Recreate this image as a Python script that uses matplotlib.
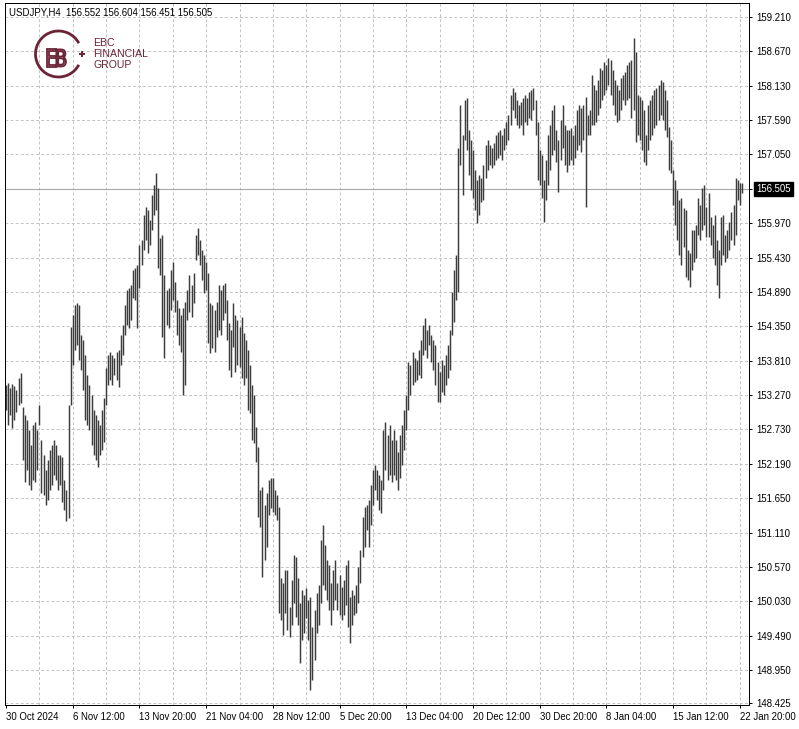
import matplotlib
matplotlib.use("Agg")
import matplotlib.pyplot as plt
import matplotlib.transforms as mtransforms
from matplotlib.patches import Arc, PathPatch
from matplotlib.textpath import TextPath
from matplotlib.font_manager import FontProperties
import numpy as np

plt.rcParams['font.family'] = ['Liberation Sans', 'DejaVu Sans']

symbol = "USDJPY,H4"
last_open = 156.552
last_high = 156.604
last_low = 156.451
last_close = 156.505

# H4 bar highs / lows, 30 Oct 2024 .. 22 Jan 2025
highs = [
    153.43, 153.46, 153.38, 153.44, 153.41, 153.35, 153.54, 153.62, 153.08, 152.96,
    152.88, 152.72, 152.49, 152.80, 152.85, 152.72, 153.11, 152.56, 152.33, 152.09,
    152.25, 152.41, 152.49, 152.56, 152.49, 152.33, 152.33, 152.30, 151.94, 151.78,
    153.11, 154.34, 154.53, 154.68, 154.71, 154.68, 154.21, 154.13, 153.90, 153.58,
    153.43, 153.27, 153.04, 152.96, 152.88, 152.80, 153.04, 153.22, 153.70, 153.90,
    153.95, 153.90, 153.85, 153.95, 153.98, 154.21, 154.37, 154.68, 154.92, 154.95,
    155.00, 155.24, 155.27, 155.31, 155.63, 155.71, 156.10, 156.23, 156.18, 156.02,
    156.41, 156.57, 156.76, 156.52, 155.74, 155.79, 155.16, 154.92, 154.95, 155.24,
    155.36, 155.05, 154.76, 154.64, 154.53, 154.64, 154.73, 154.92, 155.16, 155.00,
    155.19, 155.79, 155.90, 155.71, 155.55, 155.47, 155.36, 155.19, 154.71, 154.68,
    154.61, 154.73, 155.00, 154.92, 155.00, 155.03, 154.76, 154.40, 154.29, 154.71,
    154.53, 154.45, 154.34, 154.50, 154.24, 154.13, 153.98, 153.74, 153.43, 153.27,
    152.77, 152.45, 151.78, 151.83, 151.54, 151.73, 151.94, 151.97, 151.97, 151.78,
    151.70, 151.51, 150.40, 150.32, 150.52, 150.52, 149.94, 150.36, 150.76, 150.73,
    150.40, 150.00, 150.21, 150.13, 150.24, 150.05, 150.10, 149.63, 149.89, 150.16,
    150.29, 150.99, 151.23, 150.91, 150.68, 150.60, 150.32, 150.52, 150.68, 150.32,
    150.44, 150.25, 150.36, 150.60, 150.68, 150.10, 150.21, 150.13, 150.29, 150.57,
    150.84, 151.35, 151.51, 151.54, 151.62, 151.86, 152.09, 152.17, 152.09, 152.01,
    151.94, 152.72, 152.85, 152.64, 152.80, 152.56, 152.72, 152.56, 152.38, 152.64,
    152.80, 153.04, 153.27, 153.79, 153.74, 153.95, 153.85, 153.82, 153.98, 154.13,
    154.37, 154.48, 154.29, 154.37, 154.21, 154.13, 154.06, 153.79, 153.63, 153.82,
    153.74, 153.90, 154.06, 154.29, 154.89, 155.24, 155.47, 157.15, 157.83, 157.36,
    157.91, 157.94, 157.44, 157.28, 157.12, 156.81, 156.65, 156.73, 156.68, 156.89,
    157.20, 157.28, 157.20, 157.15, 157.23, 157.36, 157.40, 157.44, 157.36, 157.47,
    157.56, 157.67, 157.98, 158.09, 158.03, 157.91, 157.83, 157.87, 157.94, 157.98,
    157.94, 158.03, 158.06, 158.09, 157.91, 157.56, 157.12, 157.04, 156.65, 156.96,
    157.36, 157.51, 157.75, 157.83, 157.44, 157.28, 157.59, 157.83, 157.51, 157.44,
    157.44, 157.47, 157.36, 157.51, 157.75, 157.83, 157.78, 157.83, 157.95, 157.67,
    157.75, 158.30, 158.14, 158.06, 158.22, 158.41, 158.38, 158.50, 158.46, 158.57,
    158.54, 158.38, 158.22, 158.14, 158.06, 158.25, 158.30, 158.35, 158.46, 158.50,
    158.54, 158.88, 158.66, 157.98, 157.95, 157.91, 157.75, 157.36, 157.83, 157.91,
    157.98, 158.06, 158.09, 158.14, 158.22, 158.19, 158.06, 157.91, 157.48, 157.28,
    156.81, 156.65, 156.49, 156.33, 156.37, 156.21, 156.18, 155.55, 155.50, 155.86,
    155.86, 155.94, 156.37, 156.26, 156.52, 156.57, 156.23, 156.44, 156.07, 155.94,
    156.10, 155.71, 155.55, 156.07, 156.10, 155.79, 155.86, 155.99, 156.15, 156.26,
    156.68, 156.65, 156.60, 156.604,
]
lows = [
    153.04, 152.80, 152.96, 152.75, 152.88, 153.00, 153.11, 153.15, 152.25, 151.90,
    152.09, 151.86, 151.78, 151.94, 151.90, 152.09, 152.80, 151.73, 151.70, 151.54,
    151.62, 151.78, 151.86, 152.01, 151.94, 151.78, 151.86, 151.59, 151.46, 151.29,
    151.34, 153.11, 153.74, 153.98, 154.06, 153.82, 153.66, 153.35, 152.88, 152.80,
    152.72, 152.49, 152.33, 152.25, 152.14, 152.33, 152.41, 152.53, 153.11, 153.43,
    153.51, 153.43, 153.58, 153.51, 153.40, 153.74, 153.90, 154.21, 154.37, 154.32,
    154.45, 154.79, 154.76, 154.32, 154.95, 155.31, 155.55, 155.71, 155.50, 155.63,
    155.86, 156.10, 156.18, 155.27, 155.16, 154.18, 153.85, 154.37, 154.32, 154.61,
    154.76, 154.58, 154.21, 154.06, 153.95, 153.27, 153.43, 154.45, 154.58, 154.50,
    154.71, 155.39, 155.47, 155.31, 155.08, 154.87, 154.92, 154.09, 153.93, 154.01,
    153.95, 154.18, 154.29, 154.21, 154.45, 154.56, 154.13, 153.66, 153.55, 154.03,
    153.63, 153.74, 153.71, 153.54, 153.43, 153.54, 153.04, 152.99, 152.56, 152.52,
    152.22, 151.35, 151.20, 150.41, 150.68, 150.88, 151.39, 151.50, 151.43, 151.39,
    151.31, 149.85, 149.73, 149.50, 149.85, 149.58, 149.47, 149.66, 150.00, 149.78,
    149.66, 149.06, 149.42, 149.53, 149.77, 149.42, 148.63, 148.79, 149.11, 149.53,
    149.66, 150.00, 150.29, 150.21, 150.05, 149.89, 149.66, 149.89, 150.05, 149.89,
    149.81, 149.73, 149.81, 149.97, 149.63, 149.37, 149.66, 149.81, 149.85, 150.00,
    150.32, 150.73, 150.88, 151.15, 150.88, 151.23, 151.54, 151.78, 151.62, 151.46,
    151.42, 151.78, 152.09, 151.94, 152.01, 151.90, 152.01, 151.94, 151.78, 151.97,
    152.17, 152.41, 152.72, 153.04, 153.27, 153.43, 153.48, 153.51, 153.58, 153.54,
    153.90, 153.98, 153.85, 154.06, 153.79, 153.66, 153.43, 153.16, 153.16, 153.32,
    153.27, 153.43, 153.54, 153.66, 154.21, 154.42, 154.76, 154.89, 156.89, 156.41,
    157.28, 157.12, 156.73, 156.49, 156.37, 156.18, 155.97, 156.10, 156.30, 156.33,
    156.68, 156.81, 156.89, 156.84, 156.89, 156.96, 156.99, 157.04, 156.96, 157.12,
    157.20, 157.28, 157.51, 157.75, 157.62, 157.51, 157.47, 157.51, 157.36, 157.56,
    157.51, 157.62, 157.59, 157.75, 157.36, 156.65, 156.57, 156.37, 155.99, 156.33,
    156.57, 156.81, 157.04, 157.12, 156.93, 156.46, 156.96, 157.15, 156.89, 156.77,
    156.89, 156.96, 156.89, 156.99, 157.12, 157.20, 157.09, 157.28, 156.23, 157.36,
    157.36, 157.51, 157.51, 157.56, 157.67, 157.78, 157.91, 157.98, 158.06, 158.14,
    157.98, 157.83, 157.67, 157.56, 157.59, 157.75, 157.91, 157.83, 157.91, 157.94,
    157.62, 157.75, 157.25, 157.36, 157.28, 157.12, 156.93, 156.89, 157.12, 157.28,
    157.36, 157.47, 157.51, 157.59, 157.67, 157.59, 157.44, 157.33, 156.81, 156.76,
    156.26, 155.94, 155.71, 155.47, 155.31, 155.60, 155.13, 155.08, 154.97, 155.24,
    155.36, 155.42, 155.79, 155.71, 155.86, 155.94, 155.75, 155.75, 155.63, 155.42,
    155.31, 155.00, 154.79, 155.31, 155.47, 155.36, 155.42, 155.55, 155.71, 155.63,
    155.79, 156.33, 156.26, 156.451,
]

price_ticks = [159.210, 158.670, 158.130, 157.590, 157.050, 156.510, 155.970,
               155.430, 154.890, 154.350, 153.810, 153.270, 152.730, 152.190,
               151.650, 151.110, 150.570, 150.030, 149.490, 148.950, 148.425]
date_labels = ["30 Oct 2024", "6 Nov 12:00", "13 Nov 20:00", "21 Nov 04:00",
               "28 Nov 12:00", "5 Dec 20:00", "13 Dec 04:00", "20 Dec 12:00",
               "30 Dec 20:00", "8 Jan 04:00", "15 Jan 12:00", "22 Jan 20:00"]
date_label_bars = [0, 32, 64, 96, 128, 160, 192, 224, 256, 288, 320, 352]

maroon = '#6b2335'
grid_kw = dict(color='#c4c4c4', linewidth=0.72, linestyle=(0, (2.9, 2.2)), zorder=0)

W, H = 799, 729
fig = plt.figure(figsize=(W / 100, H / 100), dpi=100, facecolor='white')
ax = fig.add_axes([5 / W, 1 - 705 / H, 744 / W, 702 / H])

x = np.arange(len(highs))
ax.vlines(x, lows, highs, colors='#3c3c3c', linewidth=1.05, zorder=3)

ax.set_xlim(-0.5, 356.4)
ax.set_ylim(148.40, 159.43)

# grid
for p in price_ticks:
    ax.axhline(p, **grid_kw)
for b in range(16, 353, 16):
    ax.axvline(b, **grid_kw)

# last price line + box
ax.axhline(last_close, color='#a8a8a8', linewidth=0.8, zorder=2)
trans = mtransforms.blended_transform_factory(ax.transAxes, ax.transData)
ax.annotate(f"{last_close:.3f}", xy=(1, last_close), xycoords=trans,
            xytext=(5, 0), textcoords='offset points', ha='left', va='center',
            color='white', fontsize=6.9,
            bbox=dict(boxstyle='square,pad=0.22', fc='black', ec='black'))

# axes / ticks
ax.yaxis.tick_right()
ax.set_yticks(price_ticks)
ax.set_yticklabels(["" if abs(p - 156.51) < 1e-6 else f"{p:.3f}" for p in price_ticks])
ax.set_xticks(date_label_bars)
ax.set_xticklabels(date_labels, ha='left')
ax.tick_params(axis='both', direction='out', length=2.5, width=0.72, color='black',
               labelsize=6.9, labelcolor='black')
ax.tick_params(axis='x', pad=2.5)
ax.tick_params(axis='y', pad=3)
for s in ax.spines.values():
    s.set_linewidth(0.72)
    s.set_color('black')

ax.text(4 / 744, 1 - 9 / 702,
        f"{symbol}  {last_open:.3f} {last_high:.3f} {last_low:.3f} {last_close:.3f}",
        transform=ax.transAxes, ha='left', va='center', fontsize=6.9, color='black')

# EBC logo (pixel coords overlay)
ov = fig.add_axes([0, 0, 1, 1])
ov.set_xlim(0, W)
ov.set_ylim(H, 0)
ov.axis('off')
ov.patch.set_alpha(0)
ov.add_patch(Arc((58.5, 54), 46, 46, theta1=28, theta2=332, color=maroon, linewidth=2.0))
fp = FontProperties(family='DejaVu Sans')
for ch, cx in (("E", 45.5), ("B", 54.5)):
    tp = TextPath((0, 0), ch, size=30, prop=fp)
    tr = mtransforms.Affine2D().scale(0.62, -0.78).translate(cx, 66.5)
    ov.add_patch(PathPatch(tr.transform_path(tp), fc='none', ec=maroon, lw=1.3))
ov.plot([82], [53.5], marker='+', ms=5, mew=1.4, color=maroon)
for txt, yy in (("EBC", 43), ("FINANCIAL", 54), ("GROUP", 65)):
    ov.text(93, yy, txt, ha='left', va='center', fontsize=7.6, color=maroon)

fig.savefig('out.png', dpi=100, facecolor='white')
